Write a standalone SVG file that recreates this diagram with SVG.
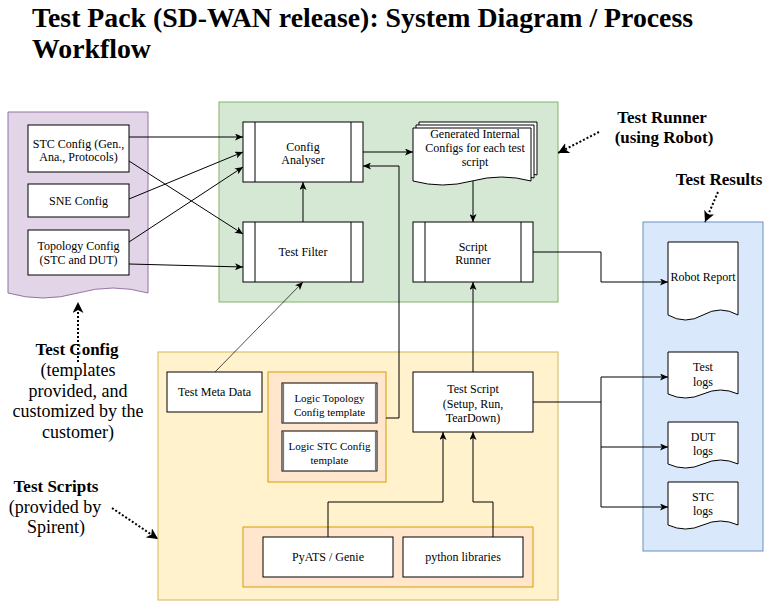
<svg xmlns="http://www.w3.org/2000/svg" width="779" height="603" viewBox="0 0 779 603">
<defs>
<style>
text{font-family:"Liberation Serif","Times New Roman",serif;fill:#000}
.t{font-size:12px;text-anchor:middle}
.s{font-size:11px;text-anchor:middle}
.lb{font-size:17px;font-weight:bold;text-anchor:middle}
.lr{font-size:18px;text-anchor:middle}
.ti{font-size:27.8px;font-weight:bold}
.box{fill:#fff;stroke:#000;stroke-width:1}
.ln{fill:none;stroke:#000;stroke-width:1}
.dot{fill:none;stroke:#000;stroke-width:2;stroke-dasharray:2 2}
</style>
<marker id="a" markerWidth="8" markerHeight="7" refX="8" refY="3.5" orient="auto" markerUnits="userSpaceOnUse"><path d="M0,0 L8,3.5 L0,7 L2,3.5 Z" fill="#000"/></marker>
<marker id="b" markerWidth="12" markerHeight="11" refX="11" refY="5.5" orient="auto" markerUnits="userSpaceOnUse"><path d="M0,0 L11,5.5 L0,11 L3,5.5 Z" fill="#000"/></marker>
</defs>
<rect width="779" height="603" fill="#fff"/>

<g id="title">
<text class="ti" x="32" y="27">Test Pack (SD-WAN release): System Diagram / Process</text>
<text class="ti" x="32" y="58">Workflow</text>
</g>

<g id="test-config-container"><path d="M8,112 H148 V293 Q113,283 78,293 Q43,303 8,293 Z" fill="#e1d5e7" stroke="#9673a6"/></g>
<g id="test-runner-container"><rect x="219" y="102" width="339" height="200" fill="#d5e8d4" stroke="#82b366"/></g>
<g id="test-scripts-container"><rect x="158" y="352" width="400" height="248" fill="#fff2cc" stroke="#d6b656"/></g>
<g id="test-results-container"><rect x="643" y="222" width="120" height="329" fill="#dae8fc" stroke="#6c8ebf"/></g>
<g id="templates-container"><rect x="268" y="372" width="118" height="110" fill="#ffe6cc" stroke="#d79b00"/></g>
<g id="libs-container"><rect x="243" y="527" width="290" height="60" fill="#ffe6cc" stroke="#d79b00"/></g>

<g id="connectors">
<path class="ln" d="M129,137 H243" marker-end="url(#a)"/>
<path class="ln" d="M129,161 L243,234" marker-end="url(#a)"/>
<path class="ln" d="M129,199 L243,152" marker-end="url(#a)"/>
<path class="ln" d="M129,242 L243,167" marker-end="url(#a)"/>
<path class="ln" d="M129,264 L243,267" marker-end="url(#a)"/>
<path class="ln" d="M303,222 V182" marker-end="url(#a)"/>
<path class="ln" d="M363,152 H413" marker-end="url(#a)"/>
<path class="ln" d="M386,418 H399 V166 H363" marker-end="url(#a)"/>
<path class="ln" d="M473,181 V222" marker-end="url(#a)"/>
<path class="ln" d="M533,252 H601 V282 H668" marker-end="url(#a)"/>
<path class="ln" d="M473,372 V282" marker-end="url(#a)"/>
<path fill="none" stroke="#000" stroke-width="0.7" d="M215,372 L303,282" marker-end="url(#a)"/>
<path class="ln" d="M328,537 V502 H443 V432" marker-end="url(#a)"/>
<path class="ln" d="M493,537 V502 H473 V432" marker-end="url(#a)"/>
<path class="ln" d="M533,402 H601"/>
<path class="ln" d="M601,377 V507"/>
<path class="ln" d="M601,377 H668" marker-end="url(#a)"/>
<path class="ln" d="M601,447 H668" marker-end="url(#a)"/>
<path class="ln" d="M601,507 H668" marker-end="url(#a)"/>
<path class="dot" d="M599,132 L558,153" marker-end="url(#b)"/>
<path class="dot" d="M718,192 L705,222" marker-end="url(#b)"/>
<path class="dot" d="M78,362 V302" marker-end="url(#b)"/>
<path class="dot" d="M112,508 L158,539" marker-end="url(#b)"/>
</g>

<g id="stc-config"><rect class="box" x="28" y="125" width="101" height="47"/>
<text class="t" x="78.5" y="147.5">STC Config (Gen.,</text><text class="t" x="78.5" y="161">Ana., Protocols)</text></g>
<g id="sne-config"><rect class="box" x="28" y="184" width="101" height="33"/>
<text class="t" x="78.5" y="205">SNE Config</text></g>
<g id="topology-config"><rect class="box" x="28" y="230" width="101" height="45"/>
<text class="t" x="78.5" y="250">Topology Config</text><text class="t" x="78.5" y="264">(STC and DUT)</text></g>

<g id="config-analyser"><rect class="box" x="243" y="122" width="120" height="60"/>
<path class="ln" d="M255,122 V182 M351,122 V182"/>
<text class="t" x="303" y="151">Config</text><text class="t" x="303" y="164">Analyser</text></g>
<g id="test-filter"><rect class="box" x="243" y="222" width="120" height="60"/>
<path class="ln" d="M255,222 V282 M351,222 V282"/>
<text class="t" x="303" y="256">Test Filter</text></g>
<g id="generated-configs">
<path class="box" d="M419,122 H537 V175 Q507.5,167 478,175 Q448.5,183 419,175 Z"/>
<path class="box" d="M416,125 H534 V178 Q504.5,170 475,178 Q445.5,186 416,178 Z"/>
<path class="box" d="M413,128 H531 V181 Q501.5,173 472,181 Q442.5,189 413,181 Z"/>
<text class="t" x="475" y="137.5">Generated Internal</text><text class="t" x="475" y="152">Configs for each test</text><text class="t" x="475" y="165.5">script</text></g>
<g id="script-runner"><rect class="box" x="413" y="222" width="120" height="60"/>
<path class="ln" d="M425,222 V282 M521,222 V282"/>
<text class="t" x="473" y="251">Script</text><text class="t" x="473" y="264">Runner</text></g>

<g id="robot-report"><path class="box" d="M668,242 H738 V315 Q720.5,305 703,315 Q685.5,325 668,315 Z"/>
<text class="t" x="703" y="281">Robot Report</text></g>
<g id="test-logs"><path class="box" d="M668,352 H738 V394 Q720.5,386 703,394 Q685.5,402 668,394 Z"/>
<text class="t" x="703" y="371">Test</text><text class="t" x="703" y="386">logs</text></g>
<g id="dut-logs"><path class="box" d="M668,422 H738 V464 Q720.5,456 703,464 Q685.5,472 668,464 Z"/>
<text class="t" x="703" y="441">DUT</text><text class="t" x="703" y="455">logs</text></g>
<g id="stc-logs"><path class="box" d="M668,482 H738 V525 Q720.5,517 703,525 Q685.5,533 668,525 Z"/>
<text class="t" x="703" y="501">STC</text><text class="t" x="703" y="515">logs</text></g>

<g id="test-meta-data"><rect class="box" x="167" y="372" width="95" height="40"/>
<text class="t" x="214.5" y="396">Test Meta Data</text></g>
<g id="logic-topology-template"><rect class="box" x="282" y="383" width="95" height="40"/>
<path fill="none" stroke="#777" stroke-width="1.2" d="M283.5,383 V423 M375.5,383 V423"/>
<text class="s" x="329.5" y="402">Logic Topology</text><text class="s" x="329.5" y="416">Config template</text></g>
<g id="logic-stc-template"><rect class="box" x="282" y="431" width="95" height="40"/>
<path fill="none" stroke="#777" stroke-width="1.2" d="M283.5,431 V471 M375.5,431 V471"/>
<text class="s" x="329.5" y="450">Logic STC Config</text><text class="s" x="329.5" y="463.5">template</text></g>
<g id="test-script"><rect class="box" x="413" y="372" width="120" height="60"/>
<text class="t" x="473" y="393">Test Script</text><text class="t" x="473" y="407.5">(Setup, Run,</text><text class="t" x="473" y="421.5">TearDown)</text></g>
<g id="pyats"><rect class="box" x="263" y="537" width="130" height="40"/>
<text class="t" x="328" y="561">PyATS / Genie</text></g>
<g id="python-libs"><rect class="box" x="403" y="537" width="120" height="40"/>
<text class="t" x="463" y="561">python libraries</text></g>

<g id="labels">
<text class="lb" x="662" y="123">Test Runner</text>
<text class="lb" x="664" y="143">(using Robot)</text>
<text class="lb" x="719" y="185">Test Results</text>
<text class="lb" x="77" y="355">Test Config</text>
<text class="lr" x="78" y="376">(templates</text>
<text class="lr" x="78" y="397">provided, and</text>
<text class="lr" x="78" y="417">customized by the</text>
<text class="lr" x="78" y="438">customer)</text>
<text class="lb" x="56" y="492">Test Scripts</text>
<text class="lr" x="55" y="513">(provided by</text>
<text class="lr" x="56" y="533">Spirent)</text>
</g>
</svg>
